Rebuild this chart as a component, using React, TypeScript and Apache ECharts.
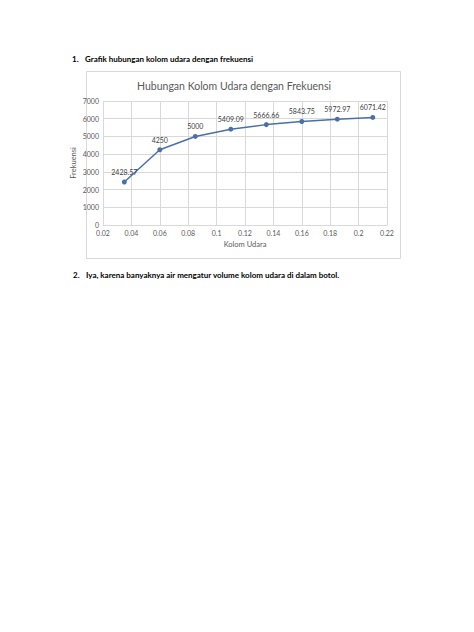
import React, { useEffect, useRef } from "react";
import * as echarts from "echarts";

const kolomUdara = [0.035, 0.06, 0.085, 0.11, 0.135, 0.16, 0.185, 0.21];
const frekuensi = [2428.57, 4250, 5000, 5409.09, 5666.66, 5843.75, 5972.97, 6071.42];
const pointLabels = ["2428.57", "4250", "5000", "5409.09", "5666.66", "5843.75", "5972.97", "6071.42"];

const heading1 = "Grafik hubungan kolom udara dengan frekuensi";
const heading2 = "Iya, karena banyaknya air mengatur volume kolom udara di dalam botol.";
const chartTitle = "Hubungan Kolom Udara dengan Frekuensi";
const xName = "Kolom Udara";
const yName = "Frekuensi";

export default function App() {
  const ref = useRef<HTMLDivElement>(null);
  useEffect(() => {
    if (!ref.current) return;
    const chart = echarts.init(ref.current, null, { renderer: "svg" });
    const font = "Lato, 'Open Sans', sans-serif";
    chart.setOption({
      animation: false,
      backgroundColor: "#ffffff",
      title: {
        text: chartTitle,
        left: 229,
        top: 75,
        textAlign: "center",
        textStyle: { fontFamily: font, fontSize: 10.5, fontWeight: "normal", color: "#595959" },
      },
      graphic: [
        {
          type: "rect",
          shape: { x: 86.5, y: 71.5, width: 314, height: 187 },
          style: { fill: "none", stroke: "#d9d9d9", lineWidth: 1 },
          z: -1,
        },
        { type: "text", x: 72, y: 55, style: { text: "1.", font: `bold 8px ${font}`, fill: "#000" } },
        { type: "text", x: 85, y: 55, style: { text: heading1, font: `bold 8px ${font}`, fill: "#000" } },
        { type: "text", x: 73, y: 271, style: { text: "2.", font: `bold 8px ${font}`, fill: "#000" } },
        { type: "text", x: 86, y: 271, style: { text: heading2, font: `bold 8px ${font}`, fill: "#000" } },
      ],
      grid: { left: 103, top: 101, width: 284, height: 124, containLabel: false },
      xAxis: {
        type: "value",
        min: 0.02,
        max: 0.22,
        interval: 0.02,
        name: xName,
        nameLocation: "middle",
        nameGap: 15,
        nameMoveOverlap: false,
        nameTextStyle: { fontFamily: font, fontSize: 7.5, color: "#595959" },
        axisLine: { show: true, lineStyle: { color: "#d9d9d9" } },
        axisTick: { show: false },
        axisLabel: {
          fontFamily: font,
          fontSize: 7,
          color: "#595959",
          margin: 4,
          formatter: (v: number) => String(parseFloat(v.toFixed(2))),
        },
        splitLine: { show: true, lineStyle: { color: "#d9d9d9", width: 1 } },
      },
      yAxis: {
        type: "value",
        min: 0,
        max: 7000,
        interval: 1000,
        name: yName,
        nameLocation: "middle",
        nameGap: 26,
        nameRotate: 90,
        nameMoveOverlap: false,
        nameTextStyle: { fontFamily: font, fontSize: 7.5, color: "#595959" },
        axisLine: { show: false },
        axisTick: { show: false },
        axisLabel: {
          fontFamily: font,
          fontSize: 7,
          color: "#595959",
          margin: 4,
          formatter: (v: number) => String(v),
        },
        splitLine: { show: true, lineStyle: { color: "#d9d9d9", width: 1 } },
      },
      series: [
        {
          type: "line",
          data: kolomUdara.map((x, i) => [x, frekuensi[i]]),
          symbol: "circle",
          symbolSize: 5,
          lineStyle: { color: "#4a70a8", width: 1.5 },
          itemStyle: { color: "#4a70a8" },
          label: {
            show: true,
            position: "top",
            distance: 4,
            fontFamily: font,
            fontSize: 7,
            color: "#404040",
            formatter: (p: any) => pointLabels[p.dataIndex],
          },
        },
      ],
    });
    return () => chart.dispose();
  }, []);
  return (
    <div
      ref={ref}
      style={{ position: "absolute", left: 0, top: 0, width: 474, height: 632 }}
    />
  );
}
